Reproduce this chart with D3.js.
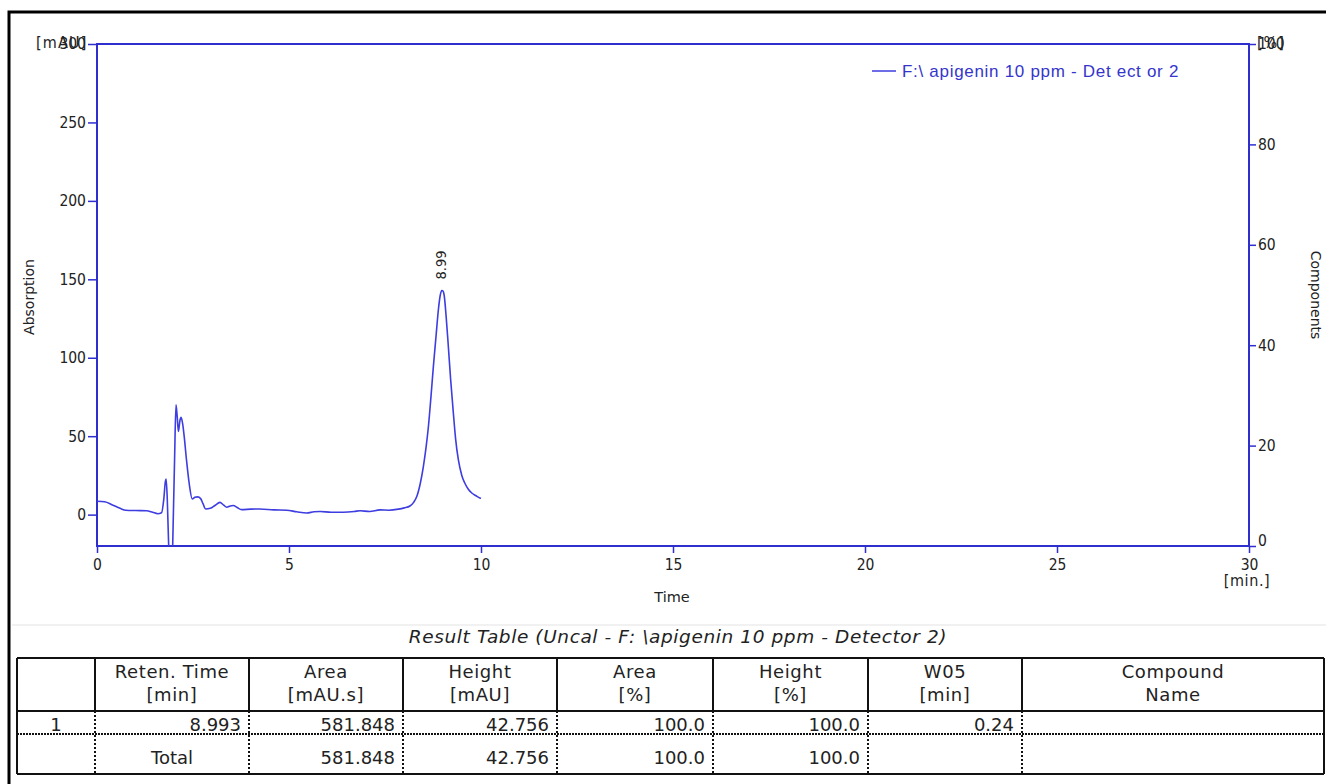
<!DOCTYPE html>
<html>
<head>
<meta charset="utf-8">
<script src="https://cdn.jsdelivr.net/npm/d3@7"></script>
<style>
    body { margin: 0; background: #fff; }
    svg { display: block; }
    text { font-family: "DejaVu Sans", Verdana, sans-serif; fill: #222; }
</style>
</head>
<body>
<div id="chart"></div>
<script>
'use strict';

// chromatogram, detector 2
var times = [0.00, 0.20, 0.40, 0.60, 0.75, 1.00, 1.29, 1.45, 1.58, 1.68, 1.74, 1.78, 1.80, 1.83, 1.867, 1.92, 1.971, 2.02,
    2.057, 2.09, 2.12, 2.16, 2.19, 2.23, 2.27, 2.33, 2.40, 2.48, 2.55, 2.62, 2.70, 2.76, 2.83, 2.95, 3.08, 3.20, 3.30, 3.38,
    3.47, 3.55, 3.65, 3.77, 4.00, 4.24, 4.60, 4.94, 5.20, 5.46, 5.65, 5.81, 6.10, 6.41, 6.70, 6.85, 7.10, 7.37, 7.60, 7.85,
    8.00, 8.15, 8.25, 8.33, 8.42, 8.50, 8.57, 8.63, 8.70, 8.76, 8.83, 8.89, 8.94, 8.98, 9.01, 9.04, 9.09, 9.15, 9.21, 9.28,
    9.34, 9.41, 9.50, 9.58, 9.67, 9.76, 9.87, 9.97, 10.0];
var absorption = [8.5, 8.2, 6.2, 4.0, 2.8, 2.6, 2.5, 1.5, 0.6, 1.2, 10, 21, 22.7, 10, -20, -80, -20, 35,
    70, 62, 53, 60, 62, 58, 50, 35, 20, 10, 11, 11.3, 10.2, 7, 3.6, 4.0, 6, 7.8, 6, 4.7,
    5.5, 5.8, 4.5, 3.2, 3.5, 3.6, 3.0, 2.8, 1.8, 1.0, 1.8, 2.0, 1.5, 1.5, 2.0, 2.5, 2.0, 3.0, 2.8, 3.5,
    4.3, 5.5, 8, 11.7, 20, 30.8, 43, 56, 76, 94.5, 114, 130.6, 140, 142.9, 142.5, 140, 127, 107, 86, 64.8,
    48, 35, 25, 20, 16.2, 13.8, 12, 10.6, 10.4];

var peakTimes = [8.99];
var peakLabels = ['8.99'];

var timeTicks = [0, 5, 10, 15, 20, 25, 30];
var absTicks = [0, 50, 100, 150, 200, 250, 300];
var pctTicks = [0, 20, 40, 60, 80, 100];

var legendLabel = 'F:\\ apigenin  10 ppm - Det ect  or 2';
var tableTitle = 'Result Table (Uncal - F: \\apigenin 10 ppm - Detector 2)';

var headTop = ['', 'Reten. Time', 'Area', 'Height', 'Area', 'Height', 'W05', 'Compound'];
var headBottom = ['', '[min]', '[mAU.s]', '[mAU]', '[%]', '[%]', '[min]', 'Name'];
var peakRow = ['1', '8.993', '581.848', '42.756', '100.0', '100.0', '0.24', ''];
var totalRow = ['', 'Total', '581.848', '42.756', '100.0', '100.0', '', ''];

var width = 1326,
    height = 784;

var plot = { left: 97, right: 1249, top: 44, bottom: 546 };
var blue = '#2f2fcf';

var svg = d3.select('#chart').append('svg')
    .attr('width', width)
    .attr('height', height);

// outer frame
svg.append('rect')
    .attr('x', 9).attr('y', 12)
    .attr('width', 1340).attr('height', 800)
    .attr('fill', 'none')
    .attr('stroke', '#000')
    .attr('stroke-width', 3);

var x = d3.scaleLinear().domain([0, 30]).range([plot.left, plot.right]);
var y = d3.scaleLinear().domain([-20, 300]).range([plot.bottom, plot.top]);
var y2 = d3.scaleLinear().domain([0, 100]).range([plot.bottom, plot.top]);

svg.append('clipPath').attr('id', 'clip')
    .append('rect')
    .attr('x', plot.left).attr('y', plot.top)
    .attr('width', plot.right - plot.left).attr('height', plot.bottom - plot.top);

// plot box
svg.append('rect')
    .attr('x', plot.left).attr('y', plot.top)
    .attr('width', plot.right - plot.left).attr('height', plot.bottom - plot.top)
    .attr('fill', 'none')
    .attr('stroke', blue)
    .attr('stroke-width', 2);

var tickFont = '"DejaVu Sans Condensed", "DejaVu Sans", sans-serif';

function styleAxis(g) {
    g.select('.domain').remove();
    g.selectAll('.tick line').attr('stroke', blue).attr('stroke-width', 1.5);
    g.selectAll('.tick text')
        .style('font-family', tickFont)
        .style('font-size', '15.5px')
        .attr('fill', '#222');
}

svg.append('g')
    .attr('transform', 'translate(0,' + plot.bottom + ')')
    .call(d3.axisBottom(x).tickValues(timeTicks).tickSize(7).tickPadding(6))
    .call(styleAxis);

svg.append('g')
    .attr('transform', 'translate(' + plot.left + ',0)')
    .call(d3.axisLeft(y).tickValues(absTicks).tickSize(9).tickPadding(2))
    .call(styleAxis);

var rightAxis = svg.append('g')
    .attr('transform', 'translate(' + plot.right + ',0)')
    .call(d3.axisRight(y2).tickValues(pctTicks).tickSize(7).tickPadding(2))
    .call(styleAxis);

// the 0 on the right axis sits a little above its tick
rightAxis.selectAll('.tick').filter(function(d) { return d === 0; })
    .select('text').attr('dy', '-0.05em');

// units
svg.append('text')
    .attr('x', 36).attr('y', 48)
    .style('font-family', tickFont)
    .style('font-size', '16px')
    .style('letter-spacing', '1.2px')
    .text('[mAU]');

svg.append('text')
    .attr('x', 1257).attr('y', 48)
    .style('font-family', tickFont)
    .style('font-size', '16px')
    .style('letter-spacing', '1px')
    .text('[%]');

svg.append('text')
    .attr('x', 1247).attr('y', 586)
    .attr('text-anchor', 'middle')
    .style('font-family', tickFont)
    .style('font-size', '16px')
    .style('letter-spacing', '0.6px')
    .text('[min.]');

// axis titles
svg.append('text')
    .attr('transform', 'translate(34,297) rotate(-90)')
    .attr('text-anchor', 'middle')
    .style('font-size', '14px')
    .text('Absorption');

svg.append('text')
    .attr('transform', 'translate(1311,295) rotate(90)')
    .attr('text-anchor', 'middle')
    .style('font-size', '14px')
    .text('Components');

svg.append('text')
    .attr('x', 672).attr('y', 602)
    .attr('text-anchor', 'middle')
    .style('font-size', '14.5px')
    .text('Time');

// trace
var points = times.map(function(t, i) { return [t, absorption[i]]; });

var line = d3.line()
    .x(function(d) { return x(d[0]); })
    .y(function(d) { return y(d[1]); })
    .curve(d3.curveMonotoneX);

svg.append('path')
    .datum(points)
    .attr('clip-path', 'url(#clip)')
    .attr('d', line)
    .attr('fill', 'none')
    .attr('stroke', '#3d3de0')
    .attr('stroke-width', 1.6);

// peak labels
var peakHeight = function(t) {
    var i = d3.bisector(function(d) { return d; }).left(times, t);
    return d3.max(absorption.slice(Math.max(0, i - 2), i + 2));
};

svg.selectAll('.peak-label')
    .data(peakTimes)
    .enter()
    .append('text')
    .attr('class', 'peak-label')
    .attr('transform', function(d) {
        return 'translate(' + (x(d) + 4) + ',' + (y(peakHeight(d)) - 11) + ') rotate(-90)';
    })
    .style('font-family', tickFont)
    .style('font-size', '14.5px')
    .text(function(d, i) { return peakLabels[i]; });

// legend
svg.append('line')
    .attr('x1', 872).attr('x2', 896)
    .attr('y1', 71).attr('y2', 71)
    .attr('stroke', '#3d3de0')
    .attr('stroke-width', 1.5);

svg.append('text')
    .attr('x', 902).attr('y', 77)
    .style('font-family', '"Liberation Sans", Arial, sans-serif')
    .style('font-size', '17px')
    .style('letter-spacing', '0.7px')
    .style('fill', '#3535cc')
    .text(legendLabel);

// separator
svg.append('line')
    .attr('x1', 12).attr('x2', width)
    .attr('y1', 625).attr('y2', 625)
    .attr('stroke', '#ececec')
    .attr('stroke-width', 1.5);

// result table
svg.append('text')
    .attr('x', 678).attr('y', 643)
    .attr('text-anchor', 'middle')
    .style('font-size', '18.5px')
    .style('font-style', 'italic')
    .style('letter-spacing', '0.6px')
    .text(tableTitle);

var colEdges = [17, 95, 249, 403, 557, 713, 868, 1022, 1324];
var rowEdges = { top: 658, head: 711, row1: 734, bottom: 774 };
var tableFont = '18px';

var table = svg.append('g');

// solid horizontal rules
[rowEdges.top, rowEdges.head, rowEdges.bottom].forEach(function(yy) {
    table.append('line')
        .attr('x1', colEdges[0]).attr('x2', colEdges[colEdges.length - 1])
        .attr('y1', yy).attr('y2', yy)
        .attr('stroke', '#111').attr('stroke-width', 2);
});

table.append('line')
    .attr('x1', colEdges[0]).attr('x2', colEdges[colEdges.length - 1])
    .attr('y1', rowEdges.row1).attr('y2', rowEdges.row1)
    .attr('stroke', '#111').attr('stroke-width', 2)
    .attr('stroke-dasharray', '2,1');

colEdges.forEach(function(cx, i) {
    var outer = i === 0 || i === colEdges.length - 1;
    table.append('line')
        .attr('x1', cx).attr('x2', cx)
        .attr('y1', rowEdges.top).attr('y2', outer ? rowEdges.bottom : rowEdges.head)
        .attr('stroke', '#111').attr('stroke-width', 2);
    if (!outer) {
        table.append('line')
            .attr('x1', cx).attr('x2', cx)
            .attr('y1', rowEdges.head).attr('y2', rowEdges.bottom)
            .attr('stroke', '#111').attr('stroke-width', 2)
            .attr('stroke-dasharray', '2,2');
    }
});

function mid(i) { return (colEdges[i] + colEdges[i + 1]) / 2; }

headTop.forEach(function(t, i) {
    table.append('text')
        .attr('x', mid(i)).attr('y', 678)
        .attr('text-anchor', 'middle')
        .style('font-size', tableFont)
        .style('letter-spacing', '0.6px')
        .text(t);
    table.append('text')
        .attr('x', mid(i)).attr('y', 701)
        .attr('text-anchor', 'middle')
        .style('font-size', tableFont)
        .style('letter-spacing', '0.6px')
        .text(headBottom[i]);
});

function drawRow(values, yy) {
    values.forEach(function(t, i) {
        var centred = i === 0 || t === 'Total';
        table.append('text')
            .attr('x', centred ? mid(i) : colEdges[i + 1] - 8)
            .attr('y', yy)
            .attr('text-anchor', centred ? 'middle' : 'end')
            .style('font-size', tableFont)
            .text(t);
    });
}

drawRow(peakRow, 731);
drawRow(totalRow, 764);
</script>
</body>
</html>
